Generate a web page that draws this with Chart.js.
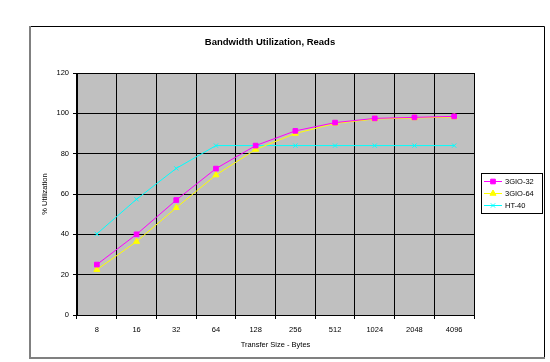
<!DOCTYPE html>
<html><head><meta charset="utf-8">
<script src="https://cdn.jsdelivr.net/npm/chart.js@4/dist/chart.umd.min.js"></script>
<style>html,body{margin:0;padding:0;background:#fff}#wrap{width:550px;height:362px;position:relative}</style>
</head><body><div id="wrap"><canvas id="c" width="550" height="362"></canvas></div>
<script>
const categories = ['8','16','32','64','128','256','512','1024','2048','4096'];
const gio32 = [25, 40, 57, 72.6, 84, 91.3, 95.4, 97.5, 98, 98.5];
const gio64 = [22.5, 36.4, 53.2, 69.4, 82.1, 90, 95, 97.2, 97.7, 98.2];
const ht40 = [40.2, 57.4, 72.7, 84, 84, 84, 84, 84, 84, 84];
const seriesNames = ['3GIO-32', '3GIO-64', 'HT-40'];
const yTicks = [0, 20, 40, 60, 80, 100, 120];
const chartTitle = 'Bandwidth Utilization, Reads';
const xTitle = 'Transfer Size - Bytes';
const yTitle = '% Utilization';

const FONT = 'Arial, "Liberation Sans", sans-serif';

const decor = {
  id: 'decor',
  beforeDraw(chart) {
    const {ctx, chartArea: a} = chart;
    ctx.save();
    ctx.fillStyle = '#c0c0c0';
    ctx.fillRect(a.left, a.top, a.right - a.left, a.bottom - a.top);
    ctx.restore();
  },
  afterDraw(chart) {
    const ctx = chart.ctx;
    ctx.save();
    // outer chart border
    ctx.lineWidth = 1;
    ctx.strokeStyle = '#000';
    ctx.beginPath();
    ctx.moveTo(29.5, 26.5); ctx.lineTo(544.5, 26.5); ctx.lineTo(544.5, 358);
    ctx.stroke();
    ctx.strokeStyle = '#808080';
    ctx.lineWidth = 2;
    ctx.beginPath();
    ctx.moveTo(30, 26); ctx.lineTo(30, 358); ctx.lineTo(545, 358);
    ctx.stroke();
    // title
    ctx.fillStyle = '#000';
    ctx.font = 'bold 9.5px ' + FONT;
    ctx.textAlign = 'center';
    ctx.textBaseline = 'middle';
    ctx.fillText(chartTitle, 270, 42);
    // legend
    const lx = 481, ly = 173, lw = 61, lh = 40;
    ctx.fillStyle = '#fff';
    ctx.fillRect(lx, ly, lw, lh);
    ctx.strokeStyle = '#000';
    ctx.lineWidth = 1;
    ctx.strokeRect(lx + 0.5, ly + 0.5, lw, lh);
    ctx.font = '7.5px ' + FONT;
    ctx.textAlign = 'left';
    chart.data.datasets.forEach((ds, i) => {
      const y = ly + 8.5 + i * 12;
      ctx.strokeStyle = ds.borderColor;
      ctx.lineWidth = 1;
      ctx.beginPath();
      ctx.moveTo(lx + 3, y); ctx.lineTo(lx + 21, y);
      ctx.stroke();
      ctx.fillStyle = ds.pointBackgroundColor;
      ctx.strokeStyle = ds.pointBorderColor;
      Chart.helpers.drawPoint(ctx, {
        pointStyle: ds.pointStyle, radius: ds.pointRadius, rotation: 0,
        borderWidth: 1
      }, lx + 12, y);
      ctx.fillStyle = '#000';
      ctx.textBaseline = 'middle';
      ctx.fillText(ds.label, lx + 24, y + 0.5);
    });
    ctx.restore();
  }
};

new Chart(document.getElementById('c'), {
  type: 'line',
  data: {
    labels: categories,
    datasets: [
      {label: seriesNames[0], data: gio32, borderColor: '#ff00ff', backgroundColor: '#ff00ff',
       pointBackgroundColor: '#ff00ff', pointBorderColor: '#ff00ff', pointStyle: 'rect', pointRadius: 3.3, borderWidth: 1, pointBorderWidth: 1},
      {label: seriesNames[1], data: gio64, borderColor: '#ffff00', backgroundColor: '#ffff00',
       pointBackgroundColor: '#ffff00', pointBorderColor: '#ffff00', pointStyle: 'triangle', pointRadius: 3.5, borderWidth: 1, pointBorderWidth: 1},
      {label: seriesNames[2], data: ht40, borderColor: '#00ffff', backgroundColor: '#00ffff',
       pointBackgroundColor: '#00ffff', pointBorderColor: '#00ffff', pointStyle: 'crossRot', pointRadius: 3, borderWidth: 1, pointBorderWidth: 1}
    ]
  },
  options: {
    responsive: false,
    animation: false,
    devicePixelRatio: 1,
    layout: {padding: {top: 73, right: 76, left: 0, bottom: 0}},
    plugins: {legend: {display: false}, title: {display: false}, tooltip: {enabled: false}},
    elements: {line: {tension: 0}},
    scales: {
      x: {
        type: 'category',
        offset: true,
        grid: {offset: true, color: '#000', lineWidth: 1, tickLength: 4, drawTicks: true},
        border: {color: '#000'},
        ticks: {color: '#000', font: {family: FONT, size: 7.5}, maxRotation: 0, padding: 6},
        title: {display: true, text: xTitle, color: '#000', font: {family: FONT, size: 7.5}, padding: {top: 0, bottom: 13}},
        afterFit(s) { s.height = 47; }
      },
      y: {
        min: 0, max: 120,
        afterBuildTicks(s) { s.ticks = yTicks.map(v => ({value: v})); },
        grid: {color: '#000', lineWidth: 1, tickLength: 4},
        border: {color: '#000'},
        ticks: {color: '#000', font: {family: FONT, size: 7.5}, padding: 4},
        title: {display: true, text: yTitle, color: '#000', font: {family: FONT, size: 7.5}, padding: {top: 40, bottom: 0}},
        afterFit(s) { s.width = 77; }
      }
    }
  },
  plugins: [decor]
});
</script>
</body></html>
